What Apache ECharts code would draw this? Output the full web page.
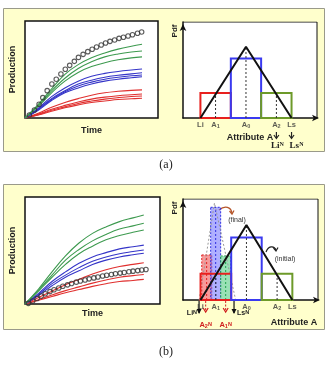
<!DOCTYPE html>
<html>
<head>
<meta charset="utf-8">
<script src="https://cdn.jsdelivr.net/npm/echarts@6/dist/echarts.min.js"></script>
<style>
  html, body { margin: 0; padding: 0; background: #fff; }
  #chart { width: 329px; height: 369px; }
</style>
</head>
<body>
<div id="chart"></div>
<script>
// ---- data ----
const time = [0, 1, 2, 3, 4, 5, 6, 7, 8, 8.8]

// panel (a) production curves
const greenA = [
  [0, 14, 30, 45, 55, 62, 67, 71, 74, 76],
  [0, 13, 28, 41, 51, 58, 63, 66, 68, 69],
  [0, 12, 26, 38, 47, 53, 57, 60, 62, 63],
]
const blueA = [
  [0, 10, 22, 31, 38, 43, 46, 48, 49.5, 50.5],
  [0, 9, 20, 28, 35, 39, 42, 44, 45.5, 46.7],
  [0, 9, 19, 27, 33, 37, 40, 42, 43.5, 44.3],
  [0, 8, 18, 26, 31, 35, 38, 40, 41.5, 42.6],
]
const redA = [
  [0, 5, 11, 16, 20, 23.5, 26, 27.5, 28.5, 29],
  [0, 4, 9, 13, 16.5, 19.5, 21.5, 23, 24, 24.7],
  [0, 3.5, 8, 11.5, 15, 17.5, 19.5, 21, 22.2, 22.7],
  [0, 3, 7, 10.5, 13.5, 16, 17.5, 19, 19.8, 20.3],
]
const obsTimeA = [0.33, 0.71, 1.06, 1.34, 1.67, 2.02, 2.35, 2.7, 3.03, 3.36, 3.71, 4.02, 4.37,
  4.72, 5.05, 5.38, 5.73, 6.06, 6.39, 6.74, 7.07, 7.4, 7.75, 8.08, 8.46, 8.77]
const obsProdA = [3.1, 8.2, 14.1, 21, 28.2, 35, 39.9, 45.4, 50.2, 54.3, 58.4, 62.5, 65.6,
  68.4, 70.8, 73.2, 75.3, 77.3, 79, 80.4, 82.1, 83.2, 84.5, 85.9, 87.3, 88.7]

// panel (b) production curves
const greenB = [
  [0, 14, 30, 45, 57, 66, 72, 77, 80.5, 83.2],
  [0, 13, 27, 41, 51, 59, 65, 70, 73, 75.4],
  [0, 12, 25, 37, 47, 54, 60, 64, 67, 69.2],
]
const blueB = [
  [0, 10, 21, 30, 38, 44, 48, 51.5, 53.5, 55],
  [0, 9, 19, 27, 34, 40, 44, 47, 49, 50.5],
  [0, 8, 17, 25, 31, 37, 41, 44, 46, 47.4],
]
const redB = [
  [0, 6, 12, 18, 23, 28, 32, 35, 37, 38.6],
  [0, 4, 8.5, 12.5, 16, 19.5, 22.5, 25, 26.5, 27.6],
  [0, 3.5, 7, 10.5, 13.5, 16.5, 19, 21, 22, 23],
]
const obsTimeB = [0.25, 0.57, 0.9, 1.2, 1.5, 1.85, 2.15, 2.5, 2.8, 3.15, 3.45, 3.8, 4.1, 4.45,
  4.75, 5.1, 5.4, 5.75, 6.05, 6.4, 6.7, 7.05, 7.35, 7.7, 8.0, 8.35, 8.65, 8.96]
const obsProdB = [0.6, 2.8, 5.2, 7.5, 9.6, 11.6, 13.3, 15, 16.6, 17.9, 19.2, 20.4, 21.5, 22.5,
  23.5, 24.4, 25.3, 26.1, 26.9, 27.6, 28.3, 28.9, 29.5, 30.1, 30.7, 31.2, 31.8, 32.3]

// pdf of attribute A (initial)
const triX = [1.3, 4.7, 8.1]
const triY = [0, 7.43, 0]
const binEdges = [1.3, 3.57, 5.83, 8.1]
const binHeights = [2.6, 6.2, 2.6]
const guideX = [2.43, 4.7, 6.97]
const guideTop = [2.5, 7.43, 2.5]
const tickX = [1.3, 2.43, 4.7, 6.97, 8.1]
const tickNames = ['Li', 'A{s|1}', 'A{s|0}', 'A{s|2}', 'Ls']

// pdf of attribute A (final, panel b)
const finTriX = [1.2, 2.33, 3.9]
const finTriY = [0, 9.6, 0]
const finEdges = [[1.39, 2.13], [2.05, 2.79], [2.79, 3.53]]
const finHeights = [4.46, 9.18, 4.36]
const finCenters = [1.75, 2.42, 3.16]
const newLimitX = [1.19, 3.78]
const newPointX = [1.68, 3.16]
const newPointNames = ['A{rs|2}{rn|N}', 'A{rs|1}{rn|N}']

// ---- styling ----
const FONT = '"Liberation Sans", Arial, sans-serif'
const SERIF = '"Liberation Serif", "Times New Roman", serif'
const GREEN = '#3d9a4f', BLUE = '#3535c8', RED = '#e0302f'
const BIN_COLORS = ['#e8201e', '#3a3af0', '#6d9a2a']
const FIN_FILL = ['rgba(240,70,70,0.55)', 'rgba(110,110,255,0.55)', 'rgba(70,200,120,0.55)']
const FIN_STROKE = ['#e02020', '#3030e0', '#20a050']

const rich = {
  s: { fontSize: 5.5, fontFamily: FONT, fontWeight: 'bold', color: '#333', verticalAlign: 'bottom' },
  n: { fontSize: 5.5, fontFamily: FONT, fontWeight: 'bold', color: '#333', verticalAlign: 'top' },
  rs: { fontSize: 5.5, fontFamily: FONT, fontWeight: 'bold', color: '#d02020', verticalAlign: 'bottom' },
  rn: { fontSize: 5.5, fontFamily: FONT, fontWeight: 'bold', color: '#d02020', verticalAlign: 'top' },
}

const grids = [
  { left: 25, top: 21, width: 133, height: 97 },
  { left: 183, top: 22, width: 134, height: 96 },
  { left: 25, top: 197, width: 135, height: 107 },
  { left: 183, top: 199, width: 135, height: 101 },
]

const hidden = { axisTick: { show: false }, axisLabel: { show: false }, splitLine: { show: false } }
const arrowLine = {
  show: true, symbol: ['none', 'arrow'], symbolSize: [5, 7],
  lineStyle: { color: '#111', width: 1.5 },
}
const nameStyle = { fontFamily: FONT, fontWeight: 'bold', fontSize: 9, color: '#222' }

const xAxis = [
  { gridIndex: 0, type: 'value', min: 0, max: 10, ...hidden, axisLine: { show: false },
    name: 'Time', nameLocation: 'middle', nameGap: 8, nameTextStyle: nameStyle },
  { gridIndex: 1, type: 'value', min: 0, max: 10, ...hidden, axisLine: { ...arrowLine, symbolOffset: [0, 2] } },
  { gridIndex: 2, type: 'value', min: 0, max: 10, ...hidden, axisLine: { show: false },
    name: 'Time', nameLocation: 'middle', nameGap: 5, nameTextStyle: nameStyle },
  { gridIndex: 3, type: 'value', min: 0, max: 10, ...hidden, axisLine: { ...arrowLine, symbolOffset: [0, 2] } },
]
const yAxis = [
  { gridIndex: 0, type: 'value', min: 0, max: 100, ...hidden, axisLine: { show: false },
    name: 'Production', nameLocation: 'middle', nameGap: 8, nameTextStyle: nameStyle },
  { gridIndex: 1, type: 'value', min: 0, max: 10, ...hidden, axisLine: { ...arrowLine, symbolOffset: [0, -2] } },
  { gridIndex: 2, type: 'value', min: 0, max: 100, ...hidden, axisLine: { show: false },
    name: 'Production', nameLocation: 'middle', nameGap: 8, nameTextStyle: nameStyle },
  { gridIndex: 3, type: 'value', min: 0, max: 10, ...hidden, axisLine: { ...arrowLine, symbolOffset: [0, -2] } },
]

const series = []

function curves(idx, sets, color) {
  sets.forEach((vals) => {
    series.push({
      type: 'line', xAxisIndex: idx, yAxisIndex: idx, smooth: 0.4, symbol: 'none', silent: true,
      lineStyle: { color, width: 1.1 }, data: time.map((t, i) => [t, vals[i]]),
    })
  })
}
function observed(idx, xs, ys) {
  series.push({
    type: 'scatter', xAxisIndex: idx, yAxisIndex: idx, symbol: 'circle', symbolSize: 4.5, silent: true,
    itemStyle: { color: 'rgba(0,0,0,0)', borderColor: '#333', borderWidth: 1.1 },
    data: xs.map((x, i) => [x, ys[i]]), z: 4,
  })
}
curves(0, redA, RED); curves(0, blueA, BLUE); curves(0, greenA, GREEN); observed(0, obsTimeA, obsProdA)
curves(2, redB, RED); curves(2, blueB, BLUE); curves(2, greenB, GREEN); observed(2, obsTimeB, obsProdB)

function pdfPanel(idx) {
  // bins as rectangles
  series.push({
    type: 'custom', xAxisIndex: idx, yAxisIndex: idx, silent: true, z: 3,
    encode: { x: [0, 1], y: 2 },
    data: binHeights.map((h, i) => [binEdges[i], binEdges[i + 1], h]),
    renderItem: (params, api) => {
      const p0 = api.coord([api.value(0), api.value(2)])
      const p1 = api.coord([api.value(1), 0])
      return {
        type: 'rect', shape: { x: p0[0], y: p0[1], width: p1[0] - p0[0], height: p1[1] - p0[1] },
        style: { fill: 'none', stroke: BIN_COLORS[params.dataIndex], lineWidth: 2 },
      }
    },
  })
  // dotted guides
  series.push({
    type: 'custom', xAxisIndex: idx, yAxisIndex: idx, silent: true, z: 3,
    encode: { x: 0, y: 1 },
    data: guideX.map((x, i) => [x, guideTop[i]]),
    renderItem: (params, api) => {
      const a = api.coord([api.value(0), 0]), b = api.coord([api.value(0), api.value(1)])
      return { type: 'line', shape: { x1: a[0], y1: a[1], x2: b[0], y2: b[1] },
        style: { stroke: '#333', lineWidth: 1, lineDash: [2, 2] } }
    },
  })
  // triangular pdf
  series.push({
    type: 'line', xAxisIndex: idx, yAxisIndex: idx, symbol: 'none', silent: true, z: 5,
    lineStyle: { color: '#111', width: 2 }, data: triX.map((x, i) => [x, triY[i]]),
  })
  // frame top / right
  series.push({
    type: 'line', xAxisIndex: idx, yAxisIndex: idx, symbol: 'none', silent: true, z: 2,
    lineStyle: { color: '#111', width: 1 }, data: [[0, 10], [10, 10], [10, 0]],
  })
  // tick labels
  series.push({
    type: 'scatter', xAxisIndex: idx, yAxisIndex: idx, symbolSize: 0, silent: true, z: 6,
    data: tickX.map((x, i) => ({ value: [x, 0], name: tickNames[i] })),
    label: { show: true, position: 'bottom', distance: 3, formatter: (p) => p.name,
      fontFamily: FONT, fontWeight: 'bold', fontSize: 7.5, color: '#333', rich },
  })
}
pdfPanel(1)
pdfPanel(3)

// final pdf in panel (b)
series.push({
  type: 'custom', xAxisIndex: 3, yAxisIndex: 3, silent: true, z: 2,
  encode: { x: [0, 1], y: 2 },
  data: finHeights.map((h, i) => [finEdges[i][0], finEdges[i][1], h, finCenters[i]]),
  renderItem: (params, api) => {
    const i = params.dataIndex
    const p0 = api.coord([api.value(0), api.value(2)])
    const p1 = api.coord([api.value(1), 0])
    const c0 = api.coord([api.value(3), 0]), c1 = api.coord([api.value(3), api.value(2)])
    return { type: 'group', children: [
      { type: 'rect', shape: { x: p0[0], y: p0[1], width: p1[0] - p0[0], height: p1[1] - p0[1] },
        style: { fill: FIN_FILL[i], stroke: FIN_STROKE[i], lineWidth: 1, lineDash: [2, 1.5] } },
      { type: 'line', shape: { x1: c0[0], y1: c0[1], x2: c1[0], y2: c1[1] },
        style: { stroke: FIN_STROKE[i], lineWidth: 1, lineDash: [2, 2] } },
    ] }
  },
})
series.push({
  type: 'line', xAxisIndex: 3, yAxisIndex: 3, symbol: 'none', silent: true, z: 2,
  lineStyle: { color: '#999', width: 1, type: [2, 2] }, data: finTriX.map((x, i) => [x, finTriY[i]]),
})
// new limits (black arrows) and new points (red dashed arrows) below the axis
series.push({
  type: 'custom', xAxisIndex: 3, yAxisIndex: 3, silent: true, z: 6, clip: false,
  encode: { x: 0 },
  data: newLimitX.map((x, i) => [x, 0, i]),
  renderItem: (params, api) => {
    const p = api.coord([api.value(0), 0])
    const left = api.value(2) === 0
    return { type: 'group', children: [
      { type: 'line', shape: { x1: p[0], y1: p[1] + 1, x2: p[0], y2: p[1] + 13 },
        style: { stroke: '#111', lineWidth: 1.2 } },
      { type: 'polygon', shape: { points: [[p[0] - 2.5, p[1] + 9], [p[0] + 2.5, p[1] + 9], [p[0], p[1] + 14]] },
        style: { fill: '#111' } },
      { type: 'text', style: { text: left ? 'Li{n|N}' : 'Ls{n|N}', x: left ? p[0] - 2 : p[0] + 3, y: p[1] + 13,
        align: left ? 'right' : 'left', verticalAlign: 'middle',
        fontFamily: FONT, fontWeight: 'bold', fontSize: 7, fill: '#222', rich } },
    ] }
  },
})
series.push({
  type: 'custom', xAxisIndex: 3, yAxisIndex: 3, silent: true, z: 6, clip: false,
  encode: { x: 0 },
  data: newPointX.map((x, i) => [x, 0, i]),
  renderItem: (params, api) => {
    const p = api.coord([api.value(0), 0])
    return { type: 'group', children: [
      { type: 'line', shape: { x1: p[0], y1: p[1] + 1, x2: p[0], y2: p[1] + 12 },
        style: { stroke: '#d02020', lineWidth: 1, lineDash: [2, 1.5] } },
      { type: 'polyline', shape: { points: [[p[0] - 2.5, p[1] + 8], [p[0], p[1] + 12], [p[0] + 2.5, p[1] + 8]] },
        style: { stroke: '#d02020', lineWidth: 1.2, fill: 'none' } },
      { type: 'text', style: { text: newPointNames[api.value(2)], x: p[0], y: p[1] + 25,
        align: 'center', verticalAlign: 'middle',
        fontFamily: FONT, fontWeight: 'bold', fontSize: 7.5, fill: '#d02020', rich } },
    ] }
  },
})

// panel (a): arrows from A2 and Ls to the new limits
series.push({
  type: 'custom', xAxisIndex: 1, yAxisIndex: 1, silent: true, z: 6, clip: false,
  encode: { x: 0 },
  data: [[tickX[3], 0, 0], [tickX[4], 0, 1]],
  renderItem: (params, api) => {
    const p = api.coord([api.value(0), 0])
    const first = api.value(2) === 0
    return { type: 'group', children: [
      { type: 'line', shape: { x1: p[0], y1: p[1] + 14, x2: p[0], y2: p[1] + 20 },
        style: { stroke: '#222', lineWidth: 1.2 } },
      { type: 'polyline', shape: { points: [[p[0] - 2.5, p[1] + 17], [p[0], p[1] + 20.5], [p[0] + 2.5, p[1] + 17]] },
        style: { stroke: '#222', lineWidth: 1.2, fill: 'none' } },
      { type: 'text', style: { text: first ? 'Li{n|N}' : 'Ls{n|N}', x: p[0] + (first ? 1 : 5), y: p[1] + 28,
        align: 'center', verticalAlign: 'middle',
        fontFamily: SERIF, fontWeight: 'bold', fontSize: 9, fill: '#222',
        rich: { n: { fontFamily: SERIF, fontWeight: 'bold', fontSize: 6, fill: '#222', verticalAlign: 'top' } } } },
    ] }
  },
})

const graphic = [
  { type: 'rect', z: -10, shape: { x: 3.5, y: 8.5, width: 321, height: 143 },
    style: { fill: '#ffffcc', stroke: '#9a9a8a', lineWidth: 1 } },
  { type: 'rect', z: -10, shape: { x: 3.5, y: 184.5, width: 321, height: 145 },
    style: { fill: '#ffffcc', stroke: '#9a9a8a', lineWidth: 1 } },
  { type: 'text', x: 166, y: 165, style: { text: '(a)', font: '12px ' + SERIF, fill: '#222', align: 'center', verticalAlign: 'middle' } },
  { type: 'text', x: 166, y: 352, style: { text: '(b)', font: '12px ' + SERIF, fill: '#222', align: 'center', verticalAlign: 'middle' } },
  { type: 'text', x: 175, y: 31, rotation: Math.PI / 2, style: { text: 'Pdf', font: 'bold 8px ' + FONT, fill: '#222', align: 'center', verticalAlign: 'middle' } },
  { type: 'text', x: 175, y: 208, rotation: Math.PI / 2, style: { text: 'Pdf', font: 'bold 8px ' + FONT, fill: '#222', align: 'center', verticalAlign: 'middle' } },
  { type: 'text', x: 250, y: 137.5, style: { text: 'Attribute A', font: 'bold 9px ' + FONT, fill: '#222', align: 'center', verticalAlign: 'middle' } },
  { type: 'text', x: 294, y: 323, style: { text: 'Attribute A', font: 'bold 9px ' + FONT, fill: '#222', align: 'center', verticalAlign: 'middle' } },
  { type: 'text', x: 237, y: 220, style: { text: '(final)', font: '7px ' + FONT, fill: '#333', align: 'center', verticalAlign: 'middle' } },
  { type: 'text', x: 285, y: 259, style: { text: '(initial)', font: '7px ' + FONT, fill: '#333', align: 'center', verticalAlign: 'middle' } },
  { type: 'bezierCurve', shape: { x1: 219, y1: 210, x2: 232, y2: 213, cpx1: 225, cpy1: 205, cpx2: 231, cpy2: 207 },
    style: { stroke: '#b5552a', lineWidth: 1.3, fill: 'none' } },
  { type: 'polyline', shape: { points: [[229.5, 211], [232, 214], [234, 210.5]] }, style: { stroke: '#b5552a', lineWidth: 1.3, fill: 'none' } },
  { type: 'bezierCurve', shape: { x1: 266, y1: 252, x2: 276, y2: 250, cpx1: 268, cpy1: 246, cpx2: 274, cpy2: 245 },
    style: { stroke: '#222', lineWidth: 1.2, fill: 'none' } },
  { type: 'polyline', shape: { points: [[273.5, 248], [276, 251], [278, 247.5]] }, style: { stroke: '#222', lineWidth: 1.2, fill: 'none' } },
]

const chart = echarts.init(document.getElementById('chart'), null, { renderer: 'canvas' })
chart.setOption({
  animation: false,
  backgroundColor: '#fff',
  grid: grids.map((g, i) => ({
    ...g, show: true, backgroundColor: '#fff', borderColor: '#111',
    borderWidth: i % 2 === 0 ? 1.5 : 0,
  })),
  xAxis, yAxis, series, graphic,
})
</script>
</body>
</html>
